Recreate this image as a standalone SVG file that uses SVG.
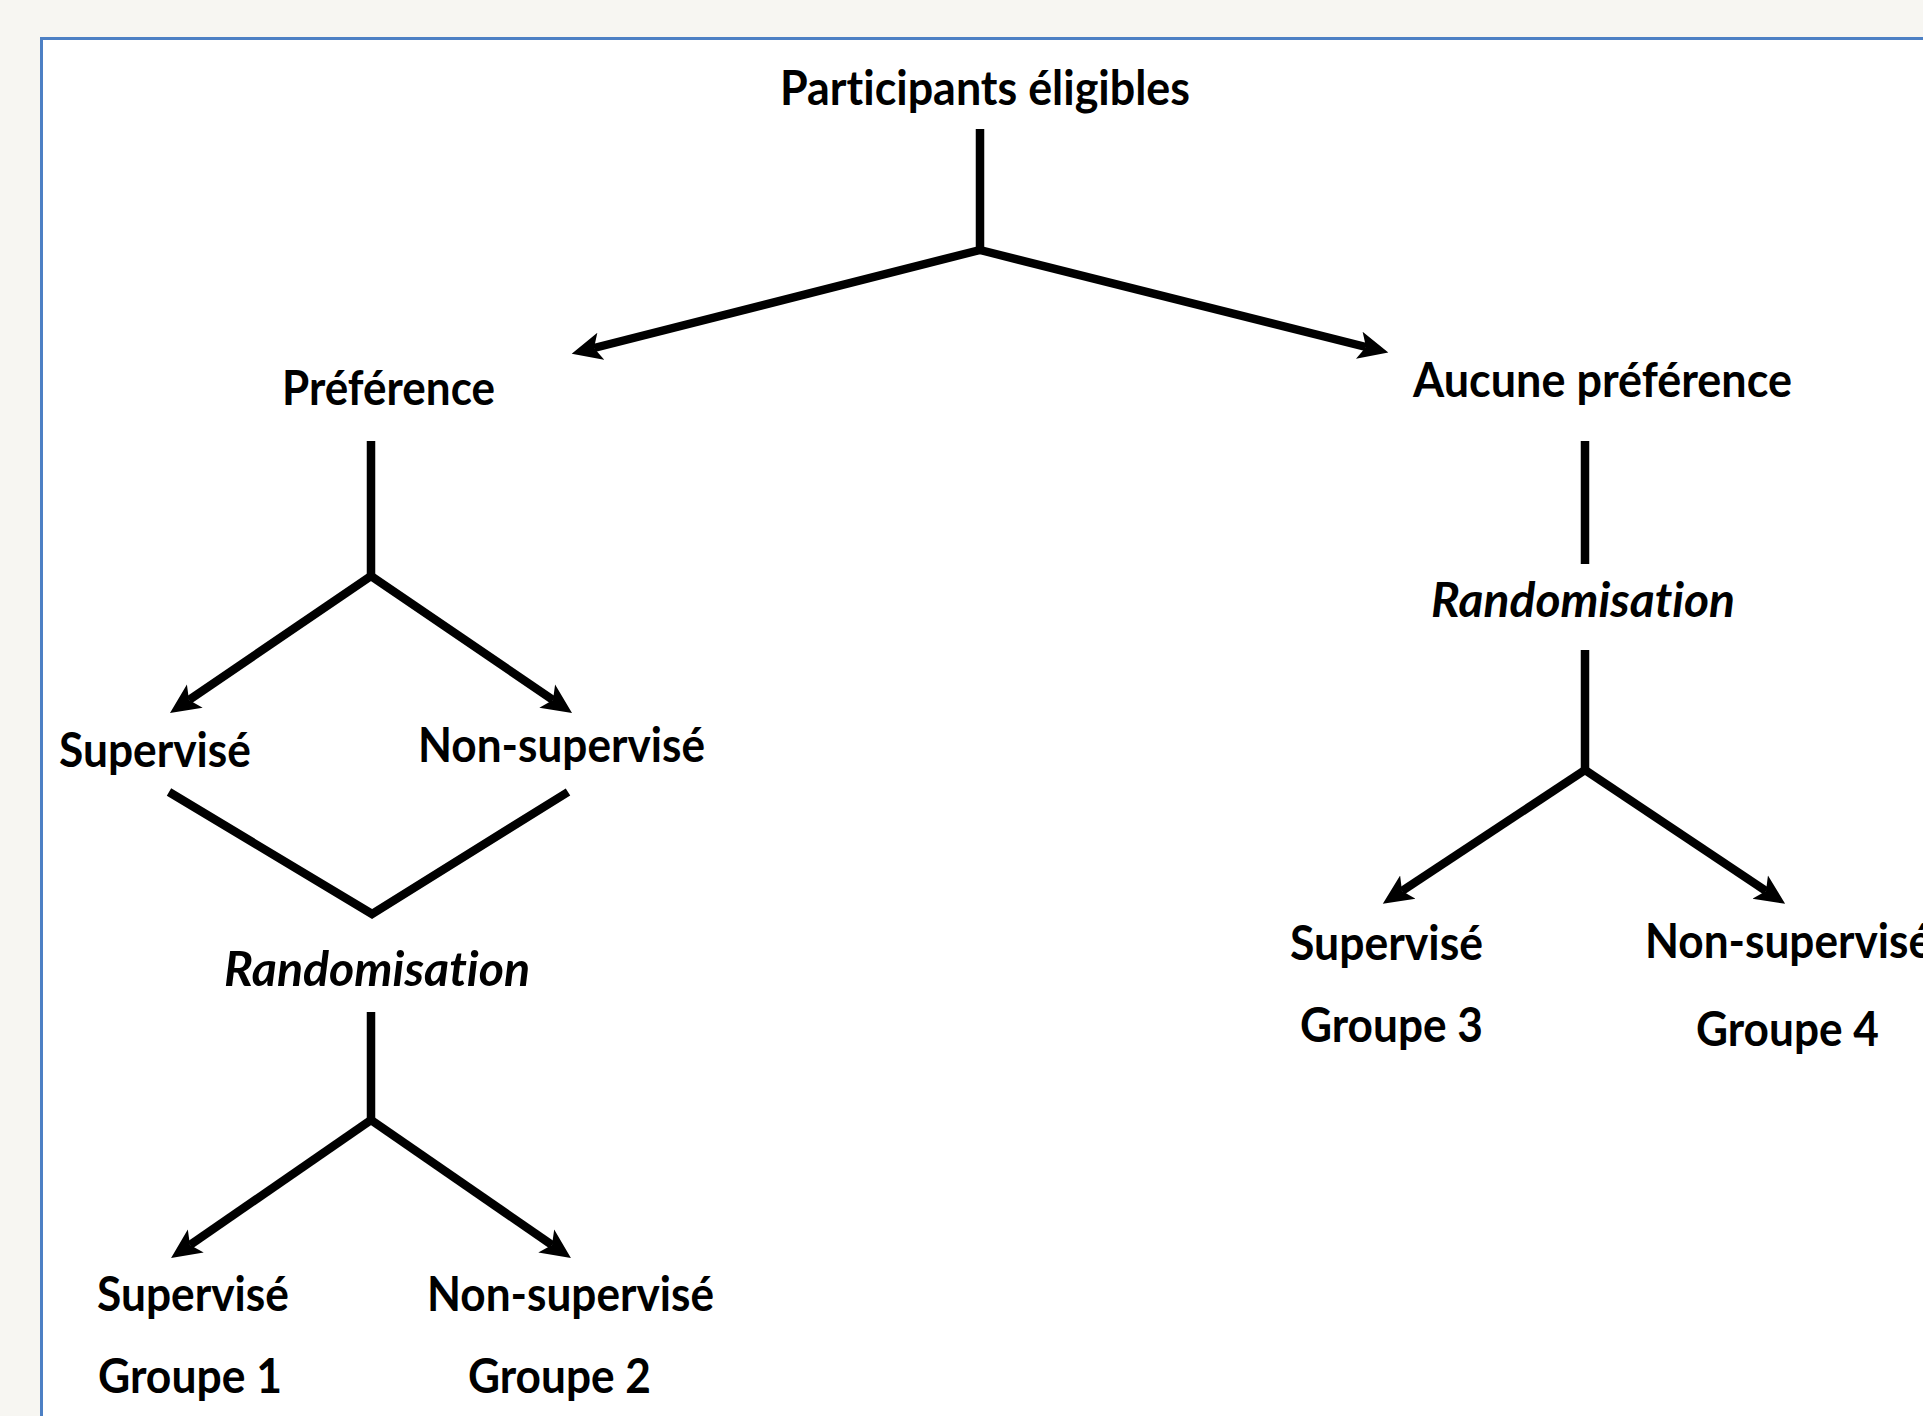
<svg xmlns="http://www.w3.org/2000/svg" width="1923" height="1416" viewBox="0 0 1923 1416">
<style>
.t{font-family:"Lato","Open Sans","Liberation Sans",sans-serif;font-weight:700;font-size:48px;fill:#000;font-variant-ligatures:none}
.i{font-style:italic}
.c{fill:none;stroke:#000;stroke-width:8.5;stroke-linejoin:miter}
</style>
<defs>
<marker id="ah" markerUnits="userSpaceOnUse" markerWidth="32" markerHeight="30" refX="7" refY="15" orient="auto">
<path d="M0,1 L30,15 L0,29 L7,15 z" fill="#000"/>
</marker>
</defs>
<rect x="0" y="0" width="1923" height="1416" fill="#f7f6f2"/>
<rect x="41.5" y="38.5" width="1900" height="1400" fill="#fff" stroke="#4d80c4" stroke-width="3"/>
<g id="connectors">
<polyline class="c" points="980,129 980,250"/>
<line class="c" x1="980" y1="250" x2="594" y2="348" marker-end="url(#ah)"/>
<line class="c" x1="980" y1="250" x2="1366" y2="347" marker-end="url(#ah)"/>
<line class="c" x1="371" y1="441" x2="371" y2="576"/>
<line class="c" x1="371" y1="576" x2="189" y2="700" marker-end="url(#ah)"/>
<line class="c" x1="371" y1="576" x2="553" y2="700" marker-end="url(#ah)"/>
<polyline class="c" points="169,792 372,914 568,792"/>
<line class="c" x1="371" y1="1012" x2="371" y2="1120"/>
<line class="c" x1="371" y1="1120" x2="190" y2="1245" marker-end="url(#ah)"/>
<line class="c" x1="371" y1="1120" x2="552" y2="1245" marker-end="url(#ah)"/>
<line class="c" x1="1585" y1="441" x2="1585" y2="564"/>
<line class="c" x1="1585" y1="650" x2="1585" y2="770"/>
<line class="c" x1="1585" y1="770" x2="1402" y2="891" marker-end="url(#ah)"/>
<line class="c" x1="1585" y1="770" x2="1766" y2="891" marker-end="url(#ah)"/>
</g>
<g id="n-participants"><text class="t" x="780" y="105" textLength="410" lengthAdjust="spacingAndGlyphs">Participants éligibles</text></g>
<g id="n-preference"><text class="t" x="282" y="405" textLength="213" lengthAdjust="spacingAndGlyphs">Préférence</text></g>
<g id="n-aucune"><text class="t" x="1413" y="397" textLength="379" lengthAdjust="spacingAndGlyphs">Aucune préférence</text></g>
<g id="n-sup1"><text class="t" x="59" y="767" textLength="192" lengthAdjust="spacingAndGlyphs">Supervisé</text></g>
<g id="n-nonsup1"><text class="t" x="418" y="762" textLength="287" lengthAdjust="spacingAndGlyphs">Non-supervisé</text></g>
<g id="n-rand1"><text class="t i" x="224" y="986" textLength="306" lengthAdjust="spacingAndGlyphs">Randomisation</text></g>
<g id="n-g1"><text class="t" x="97" y="1311" textLength="192" lengthAdjust="spacingAndGlyphs">Supervisé</text><text class="t" x="98" y="1393" textLength="184" lengthAdjust="spacingAndGlyphs">Groupe 1</text></g>
<g id="n-g2"><text class="t" x="427" y="1311" textLength="287" lengthAdjust="spacingAndGlyphs">Non-supervisé</text><text class="t" x="468" y="1393" textLength="183" lengthAdjust="spacingAndGlyphs">Groupe 2</text></g>
<g id="n-rand2"><text class="t i" x="1431" y="617" textLength="304" lengthAdjust="spacingAndGlyphs">Randomisation</text></g>
<g id="n-g3"><text class="t" x="1290" y="960" textLength="193" lengthAdjust="spacingAndGlyphs">Supervisé</text><text class="t" x="1300" y="1042" textLength="183" lengthAdjust="spacingAndGlyphs">Groupe 3</text></g>
<g id="n-g4"><text class="t" x="1645" y="958" textLength="287" lengthAdjust="spacingAndGlyphs">Non-supervisé</text><text class="t" x="1696" y="1046" textLength="183" lengthAdjust="spacingAndGlyphs">Groupe 4</text></g>
</svg>
